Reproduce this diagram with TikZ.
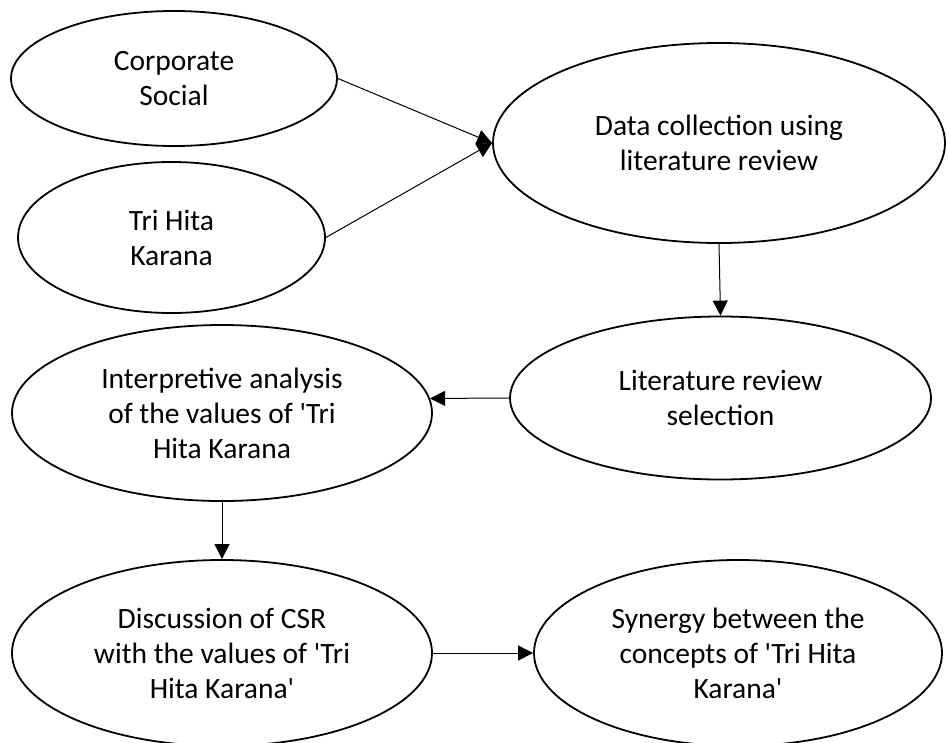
\documentclass[tikz,border=0pt]{standalone}
\usepackage{fontspec}
\setmainfont{Carlito}
\usetikzlibrary{shapes.geometric,arrows.meta}
\newcommand{\qt}{\textquotesingle}

\begin{document}
\begin{tikzpicture}[x=1pt, y=-1pt, >={Triangle[length=15pt,width=15pt]},
        stage/.style={ellipse, draw, line width=1.8pt, inner sep=0pt, align=center,
            font=\fontsize{29.5}{35}\selectfont},
        flow/.style={->, line width=1pt}]
        % ==== CANVAS ====
        \useasboundingbox (0,0) rectangle (947,742);
        % ==== INPUT CONCEPTS ====
        \node[stage, minimum width=326pt, minimum height=135pt] (csr) at (174,78.5) {Corporate\\Social};
        \node[stage, minimum width=307pt, minimum height=151pt] (thk) at (171.5,237.5) {Tri Hita\\Karana};
        % ==== RESEARCH STEPS ====
        \node[stage, minimum width=452pt, minimum height=200pt] (data) at (719,143) {Data collection using\\literature review};
        \node[stage, minimum width=421pt, minimum height=163pt] (select) at (720.5,398) {Literature review\\selection};
        \node[stage, minimum width=420pt, minimum height=176pt] (interp) at (222,413) {Interpretive analysis\\of the values of \qt Tri\\Hita Karana};
        \node[stage, minimum width=420pt, minimum height=186pt] (discuss) at (222,653) {Discussion of CSR\\with the values of \qt Tri\\Hita Karana\qt};
        \node[stage, minimum width=408pt, minimum height=186pt] (synergy) at (738,653) {Synergy between the\\concepts of \qt Tri Hita\\Karana\qt};
        % ==== FLOW ====
        \draw[flow] (csr.east) -- (data.west);
        \draw[flow] (thk.east) -- (data.west);
        \draw[flow] (data.south) -- (select.north);
        \draw[flow] (select.west) -- (interp.4);
        \draw[flow] (interp.south) -- (discuss.north);
        \draw[flow] (discuss.east) -- (synergy.west);
\end{tikzpicture}
\end{document}
